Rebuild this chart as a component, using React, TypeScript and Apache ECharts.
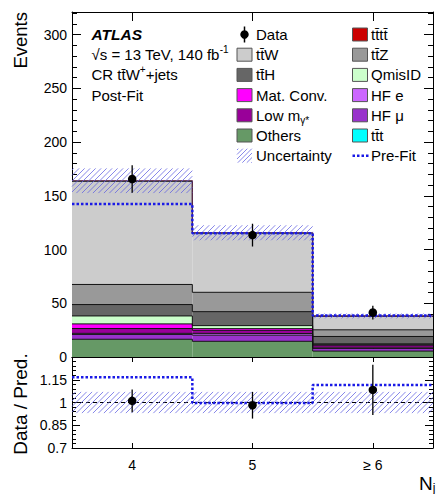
import React, { useEffect, useRef } from 'react';
import * as echarts from 'echarts';

// ---------------- data ----------------
const binCenters = [4, 5, 6];
const xTickLabels = ['4', '5', '≥ 6'];

const others = [16.5, 14.6, 5.5];
const hfMu = [4.5, 5.7, 2.5];
const hfE = [1.0, 1.5, 0.5];
const lowM = [4.5, 3.0, 2.0];
const matConv = [4.3, 1.6, 1.0];
const qmisID = [7.4, 2.8, 0.8];
const ttH = [10.6, 13.0, 6.8];
const ttZ = [18.7, 18.0, 6.2];
const ttW = [96.0, 55.0, 12.6];
const ttt = [0.2, 0.2, 0.1];
const tttt = [0.3, 0.2, 0.2];

const uncertainty = [11.5, 7.0, 2.3];
const dataValues = [165.6, 113.4, 41.4];
const dataErrors = [12.8, 10.6, 6.4];
const preFit = [142.3, 115.2, 38.6];

const ratioData = [1.011, 0.982, 1.083];
const ratioErrors = [0.075, 0.088, 0.166];
const ratioPreFit = [1.166, 0.997, 1.115];
const ratioUncertainty = [0.07, 0.07, 0.07];
const ratioReference = 1;

const mainYMax = 321;
const mainYInterval = 50;
const mainYLabelMax = 300;
const ratioYMin = 0.7;
const ratioYMax = 1.3;
const ratioYTicks = [0.7, 0.85, 1, 1.15];
const ratioYMajorTicks = [0.7, 0.85, 1, 1.15, 1.3];

// ---------------- styling ----------------
const F = '"Liberation Sans", Arial, Helvetica, sans-serif';
const HATCH = 'rgba(95,95,225,0.75)';
const PREFIT = '#1a1ae6';

const stack = [
  { name: 'Others', values: others, color: '#669966' },
  { name: 'HF μ', values: hfMu, color: '#9933cc' },
  { name: 'HF e', values: hfE, color: '#cc66ff' },
  { name: 'Low m', values: lowM, color: '#990099' },
  { name: 'Mat. Conv.', values: matConv, color: '#ff00ff' },
  { name: 'QmisID', values: qmisID, color: '#ccffcc' },
  { name: 'ttH', values: ttH, color: '#666666' },
  { name: 'ttZ', values: ttZ, color: '#999999' },
  { name: 'ttW', values: ttW, color: '#cccccc' },
  { name: 'ttt', values: ttt, color: '#00ffff' },
  { name: 'tttt', values: tttt, color: '#cc0000' },
];

let mctx: CanvasRenderingContext2D | null = null;
function measure(t: string, size: number, weight = 'normal', style = 'normal') {
  if (!mctx) mctx = document.createElement('canvas').getContext('2d');
  if (!mctx) return t.length * size * 0.55;
  mctx.font = `${style} ${weight} ${size}px ${F}`;
  return mctx.measureText(t).width;
}

function hatch(x0: number, y0: number, x1: number, y1: number, s: number) {
  const out: any[] = [];
  const cStart = Math.ceil((x0 + y0) / s) * s;
  for (let c = cStart; c <= x1 + y1; c += s) {
    const xa = Math.max(x0, c - y1);
    const xb = Math.min(x1, c - y0);
    if (xb > xa) out.push({ x1: xa, y1: c - xa, x2: xb, y2: c - xb });
  }
  return out;
}

function stepPoints(vals: number[]) {
  const pts: number[][] = [];
  vals.forEach((v, i) => {
    pts.push([binCenters[i] - 0.5, v]);
    pts.push([binCenters[i] + 0.5, v]);
  });
  return pts;
}

function txt(x: number, y: number, text: string, size: number, opts: any = {}) {
  return {
    type: 'text',
    x,
    y,
    z: 20,
    rotation: opts.rotation || 0,
    style: {
      text,
      fontSize: size,
      fontFamily: F,
      fontWeight: opts.weight || 'normal',
      fontStyle: opts.style || 'normal',
      fill: '#000',
      align: opts.align || 'left',
      textAlign: opts.align || 'left',
      verticalAlign: 'middle',
      textVerticalAlign: 'middle',
    },
  };
}

function segText(x: number, y: number, segs: any[]) {
  const out: any[] = [];
  let cx = x;
  for (const s of segs) {
    out.push(txt(cx, y + (s.dy || 0), s.t, s.size, { weight: s.weight, style: s.style }));
    cx += measure(s.t, s.size, s.weight || 'normal', s.style || 'normal');
  }
  return out;
}

function buildGraphics() {
  const els: any[] = [];
  const rowY = (i: number) => 34.5 + i * 20.2;
  const fs = 15;
  const c1Box = 237, c2Box = 352.5, bw = 15, bh = 13, c1Text = 256, c2Text = 371;
  const box = (x: number, y: number, color: string) => ({
    type: 'rect', z: 20,
    shape: { x, y: y - bh / 2, width: bw, height: bh },
    style: { fill: color, stroke: '#555', lineWidth: 1 },
  });
  const colorOf = (n: string) => stack.find((s) => s.name === n)!.color;

  // column 1
  els.push({ type: 'line', z: 20, shape: { x1: c1Box + bw / 2, y1: rowY(0) - 8, x2: c1Box + bw / 2, y2: rowY(0) + 8 }, style: { stroke: '#000', lineWidth: 1.5 } });
  els.push({ type: 'circle', z: 21, shape: { cx: c1Box + bw / 2, cy: rowY(0), r: 4.2 }, style: { fill: '#000' } });
  els.push(txt(c1Text, rowY(0), 'Data', fs));
  els.push(box(c1Box, rowY(1), colorOf('ttW')));
  els.push(txt(c1Text, rowY(1), 'tt\u0304W', fs));
  els.push(box(c1Box, rowY(2), colorOf('ttH')));
  els.push(txt(c1Text, rowY(2), 'tt\u0304H', fs));
  els.push(box(c1Box, rowY(3), colorOf('Mat. Conv.')));
  els.push(txt(c1Text, rowY(3), 'Mat. Conv.', fs));
  els.push(box(c1Box, rowY(4), colorOf('Low m')));
  els.push(...segText(c1Text, rowY(4), [{ t: 'Low m', size: fs }, { t: 'γ*', size: 10, dy: 5 }]));
  els.push(box(c1Box, rowY(5), colorOf('Others')));
  els.push(txt(c1Text, rowY(5), 'Others', fs));
  hatch(c1Box, rowY(6) - 7, c1Box + bw, rowY(6) + 7, 4.5).forEach((l) =>
    els.push({ type: 'line', z: 20, shape: l, style: { stroke: HATCH, lineWidth: 1 } })
  );
  els.push(txt(c1Text, rowY(6), 'Uncertainty', fs));

  // column 2
  els.push(box(c2Box, rowY(0), colorOf('tttt')));
  els.push(txt(c2Text, rowY(0), 'tt\u0304tt\u0304', fs));
  els.push(box(c2Box, rowY(1), colorOf('ttZ')));
  els.push(txt(c2Text, rowY(1), 'tt\u0304Z', fs));
  els.push(box(c2Box, rowY(2), colorOf('QmisID')));
  els.push(txt(c2Text, rowY(2), 'QmisID', fs));
  els.push(box(c2Box, rowY(3), colorOf('HF e')));
  els.push(txt(c2Text, rowY(3), 'HF e', fs));
  els.push(box(c2Box, rowY(4), colorOf('HF μ')));
  els.push(txt(c2Text, rowY(4), 'HF μ', fs));
  els.push(box(c2Box, rowY(5), colorOf('ttt')));
  els.push(txt(c2Text, rowY(5), 'tt\u0304t', fs));
  els.push({ type: 'line', z: 20, shape: { x1: c2Box, y1: rowY(6), x2: c2Box + bw + 1, y2: rowY(6) }, style: { stroke: PREFIT, lineWidth: 2.5, lineDash: [2.5, 2] } });
  els.push(txt(c2Text, rowY(6), 'Pre-Fit', fs));

  // ATLAS block
  els.push(txt(91.5, rowY(0), 'ATLAS', 15.5, { weight: 'bold', style: 'italic' }));
  els.push(...segText(91.5, rowY(1), [{ t: '√s = 13 TeV, 140 fb', size: fs }, { t: '-1', size: 10, dy: -5 }]));
  els.push(...segText(91.5, rowY(2), [{ t: 'CR tt\u0304W', size: fs }, { t: '+', size: 10, dy: -5 }, { t: '+jets', size: fs }]));
  els.push(txt(91.5, rowY(3), 'Post-Fit', fs));

  // axis titles
  els.push(txt(20, 12, 'Events', 18.5, { rotation: Math.PI / 2, align: 'right' }));
  els.push(txt(20, 404, 'Data / Pred.', 19, { rotation: Math.PI / 2, align: 'center' }));
  els.push(txt(419, 483, 'N', 19));
  els.push(txt(419 + measure('N', 19), 488, 'j', 12));
  return els;
}

function mkX(gridIndex: number, position: string, labels: boolean, tickLen: number) {
  return {
    type: 'value', gridIndex, position, min: 3.5, max: 6.5,
    axisLine: { show: true, onZero: false, lineStyle: { color: '#000', width: 1 } },
    axisTick: { show: true, inside: true, length: tickLen, customValues: binCenters, lineStyle: { color: '#000' } },
    axisLabel: {
      show: labels, customValues: binCenters, margin: 10, fontSize: 14, color: '#000', fontFamily: F,
      formatter: (v: number) => { const i = binCenters.indexOf(v); return i >= 0 ? xTickLabels[i] : ''; },
    },
    splitLine: { show: false },
    minorTick: { show: false },
  };
}

function buildOption() {
  const ratioMinor: number[] = [];
  for (let k = 0; k <= 20; k++) {
    const v = Math.round((ratioYMin + k * 0.03) * 1000) / 1000;
    if (v < ratioYMax && !ratioYMajorTicks.some((m) => Math.abs(m - v) < 1e-6)) ratioMinor.push(v);
  }
  const axLine = { show: true, onZero: false, lineStyle: { color: '#000', width: 1 } };
  const mainY = (position: string, labels: boolean) => ({
    type: 'value', gridIndex: 0, position, min: 0, max: mainYMax, interval: mainYInterval,
    axisLine: axLine,
    axisTick: { show: true, inside: true, length: 9, lineStyle: { color: '#000' } },
    minorTick: { show: true, splitNumber: 5, length: 5, lineStyle: { color: '#000' } },
    axisLabel: {
      show: labels, margin: 5, fontSize: 14, color: '#000', fontFamily: F,
      formatter: (v: number) => (v % mainYInterval === 0 && v <= mainYLabelMax ? String(v) : ''),
    },
    splitLine: { show: false },
  });
  const ratioY = (position: string, labels: boolean) => ({
    type: 'value', gridIndex: 1, position, min: ratioYMin, max: ratioYMax,
    axisLine: axLine,
    axisTick: { show: true, inside: true, length: 8, customValues: ratioYMajorTicks, lineStyle: { color: '#000' } },
    axisLabel: {
      show: labels, customValues: ratioYTicks, margin: 5, fontSize: 14, color: '#000', fontFamily: F,
      formatter: (v: number) => String(Math.round(v * 100) / 100),
    },
    splitLine: { show: false },
  });
  const ratioMinorY = (position: string) => ({
    type: 'value', gridIndex: 1, position, min: ratioYMin, max: ratioYMax,
    axisLine: { show: false },
    axisTick: { show: true, inside: true, length: 4, customValues: ratioMinor, lineStyle: { color: '#000' } },
    axisLabel: { show: false },
    splitLine: { show: false },
  });

  // cumulative stack
  const cum: number[][] = [];
  let running = binCenters.map(() => 0);
  const series: any[] = [];
  stack.forEach((comp, k) => {
    const lo = running.slice();
    const hi = running.map((v, i) => v + comp.values[i]);
    cum.push(hi);
    running = hi;
    series.push({
      type: 'custom', name: comp.name, xAxisIndex: 0, yAxisIndex: 0, z: 1,
      encode: { x: 0, y: [1, 2] },
      data: binCenters.map((c, i) => [c, lo[i], hi[i]]),
      renderItem: (params: any, api: any) => {
        const x = api.value(0);
        const a = api.coord([x - 0.5, api.value(2)]);
        const b = api.coord([x + 0.5, api.value(1)]);
        return { type: 'rect', shape: { x: a[0], y: a[1], width: b[0] - a[0], height: b[1] - a[1] }, style: { fill: comp.color } };
      },
    });
  });
  cum.forEach((level, k) => {
    if (k >= stack.length - 2) return; // tiny top components share outline with total
    series.push({
      type: 'line', xAxisIndex: 0, yAxisIndex: 0, z: 3, symbol: 'none', silent: true,
      data: stepPoints(level), lineStyle: { color: '#111', width: 1 },
    });
  });
  const total = cum[cum.length - 1];
  series.push({
    type: 'line', xAxisIndex: 0, yAxisIndex: 0, z: 3, symbol: 'none', silent: true,
    data: stepPoints(total), lineStyle: { color: '#5a2a4a', width: 1.2 },
  });

  const hatchSeries = (xi: number, yi: number, centers: number[], err: number[]) => ({
    type: 'custom', xAxisIndex: xi, yAxisIndex: yi, z: 4, silent: true,
    encode: { x: 0, y: [1, 2] },
    data: binCenters.map((c, i) => [c, centers[i] - err[i], centers[i] + err[i]]),
    renderItem: (params: any, api: any) => {
      const x = api.value(0);
      const a = api.coord([x - 0.5, api.value(2)]);
      const b = api.coord([x + 0.5, api.value(1)]);
      return {
        type: 'group',
        children: hatch(a[0], a[1], b[0], b[1], 5.5).map((l) => ({ type: 'line', shape: l, style: { stroke: HATCH, lineWidth: 1 } })),
      };
    },
  });
  series.push(hatchSeries(0, 0, total, uncertainty));
  series.push(hatchSeries(2, 2, binCenters.map(() => ratioReference), ratioUncertainty));

  series.push({
    type: 'line', xAxisIndex: 0, yAxisIndex: 0, z: 5, symbol: 'none', silent: true,
    data: stepPoints(preFit), lineStyle: { color: PREFIT, width: 2.5, type: [2.5, 2] },
  });
  series.push({
    type: 'line', xAxisIndex: 2, yAxisIndex: 2, z: 5, symbol: 'none', silent: true,
    data: stepPoints(ratioPreFit), lineStyle: { color: PREFIT, width: 2.5, type: [2.5, 2] },
  });
  series.push({
    type: 'line', xAxisIndex: 2, yAxisIndex: 2, z: 3, symbol: 'none', silent: true,
    data: [[3.5, ratioReference], [6.5, ratioReference]], lineStyle: { color: '#000', width: 1, type: [4, 3] },
  });

  const errSeries = (xi: number, yi: number, vals: number[], errs: number[]) => ({
    type: 'custom', xAxisIndex: xi, yAxisIndex: yi, z: 6, silent: true,
    encode: { x: 0, y: [1, 2] },
    data: binCenters.map((c, i) => [c, vals[i] - errs[i], vals[i] + errs[i]]),
    renderItem: (params: any, api: any) => {
      const a = api.coord([api.value(0), api.value(1)]);
      const b = api.coord([api.value(0), api.value(2)]);
      return { type: 'line', shape: { x1: a[0], y1: a[1], x2: b[0], y2: b[1] }, style: { stroke: '#000', lineWidth: 1.3 } };
    },
  });
  series.push(errSeries(0, 0, dataValues, dataErrors));
  series.push(errSeries(2, 2, ratioData, ratioErrors));
  series.push({
    type: 'scatter', xAxisIndex: 0, yAxisIndex: 0, z: 7, symbolSize: 8.5,
    data: binCenters.map((c, i) => [c, dataValues[i]]), itemStyle: { color: '#000', opacity: 1 },
  });
  series.push({
    type: 'scatter', xAxisIndex: 2, yAxisIndex: 2, z: 7, symbolSize: 8.5,
    data: binCenters.map((c, i) => [c, ratioData[i]]), itemStyle: { color: '#000', opacity: 1 },
  });

  return {
    animation: false,
    backgroundColor: '#fff',
    textStyle: { fontFamily: F },
    grid: [
      { left: 72, top: 12, width: 361, height: 345 },
      { left: 72, top: 357, width: 361, height: 91 },
    ],
    xAxis: [mkX(0, 'bottom', false, 9), mkX(0, 'top', false, 9), mkX(1, 'bottom', true, 5), mkX(1, 'top', false, 5)],
    yAxis: [mainY('left', true), mainY('right', false), ratioY('left', true), ratioY('right', false), ratioMinorY('left'), ratioMinorY('right')],
    series,
    graphic: buildGraphics(),
  };
}

export default function App() {
  const ref = useRef<HTMLDivElement>(null);
  useEffect(() => {
    if (!ref.current) return;
    const chart = echarts.init(ref.current, null, { renderer: 'svg' });
    chart.setOption(buildOption() as any);
    return () => chart.dispose();
  }, []);
  return <div ref={ref} style={{ position: 'fixed', left: 0, top: 0, width: 437, height: 494, background: '#fff' }} />;
}
